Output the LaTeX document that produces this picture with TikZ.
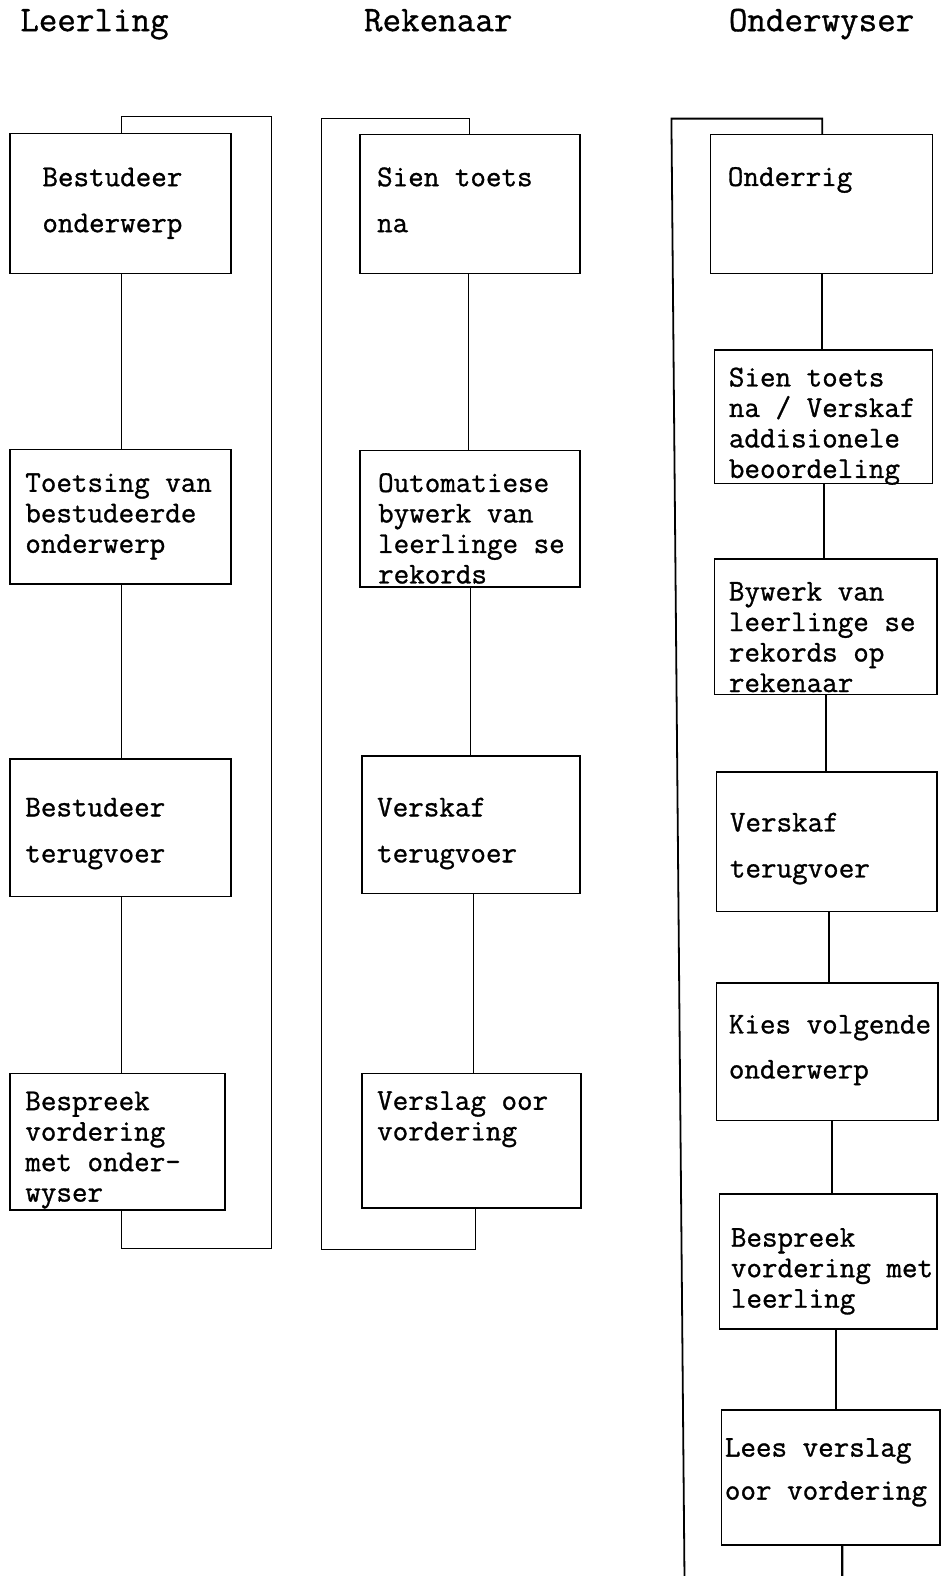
\documentclass[tikz,border=0pt]{standalone}
\usepackage{fontspec}
\newfontfamily\typew{Latin Modern Mono}[FakeBold=1]
\usetikzlibrary{calc}
\begin{document}
\begin{tikzpicture}[x=1.0053pt,y=-1.0053pt,
  box/.style={draw,line width=1.5pt,inner sep=0pt},
  lbl/.style={anchor=base west,inner sep=0pt,align=left,font={\typew\fontsize{30.2}{30.5}\selectfont}},
  lblwide/.style={lbl,font={\typew\fontsize{30.2}{46}\selectfont}},
  head/.style={anchor=base west,inner sep=0pt,font={\typew\fontsize{36}{40}\selectfont}},
  wire/.style={line width=1.4pt},
  heavy/.style={line width=2.4pt}]
\useasboundingbox (0,0) rectangle (941,1568);

% a box given by its corners
\newcommand\flowbox[5]{\node[box,minimum width={(#4-#2)*1.0053},minimum height={(#5-#3)*1.0053}] (#1) at ({(#2+#4)/2},{(#3+#5)/2}) {};}
% vertical joint from the bottom of one box to the top of the next
\newcommand\joinbox[4][wire]{\draw[#1] ($(#2.south)+(#4,0)$) coordinate (k) -- (k |- #3.north);}

% column headings
\node[head] (hL) at (20,31) {Leerling};
\node[head] (hR) at (362,31) {Rekenaar};
\node[head] (hO) at (725,31) {Onderwyser};

% ---- Leerling (text nodes sit on the baseline of their last line)
\flowbox{l1}{10}{133}{230}{272}
\flowbox{l2}{10}{447}{230}{581}
\flowbox{l3}{10}{755}{230}{892}
\flowbox{l4}{10}{1068}{224}{1204}
\node[lblwide] (l1t) at (42,231) {Bestudeer\\onderwerp};
\node[lbl] (l2t) at (25,550) {Toetsing van\\bestudeerde\\onderwerp};
\node[lblwide] (l3t) at (25,858) {Bestudeer\\terugvoer};
\node[lbl] (l4t) at (25,1195.5) {Bespreek\\vordering\\met onder-\\wyser};
\joinbox{l1}{l2}{1}
\joinbox{l2}{l3}{1}
\joinbox{l3}{l4}{1}
\coordinate (ltop) at (270,116);
\coordinate (lbot) at (270,1242);
\draw[wire] ($(l4.south)+(4,0)$) |- (lbot) -- (ltop) -| ($(l1.north)+(1,0)$);

% ---- Rekenaar
\flowbox{r1}{358}{134}{577}{272}
\flowbox{r2}{358}{448}{577}{584}
\flowbox{r3}{360}{752}{577}{889}
\flowbox{r4}{360}{1068}{578}{1202}
\node[lblwide] (r1t) at (375,231) {Sien toets\\na};
\node[lbl] (r2t) at (376,580.5) {Outomatiese\\bywerk van\\leerlinge se\\rekords};
\node[lblwide] (r3t) at (375,858) {Verskaf\\terugvoer};
\node[lbl] (r4t) at (375,1134.5) {Verslag oor\\vordering};
\joinbox{r1}{r2}{-1.5}
\joinbox{r2}{r3}{0.5}
\joinbox{r3}{r4}{2.5}
\coordinate (rtop) at (320,118);
\coordinate (rbot) at (320,1243);
\draw[wire] ($(r4.south)+(4,0)$) |- (rbot) -- (rtop) -| ($(r1.north)+(-0.5,0)$);

% ---- Onderwyser
\flowbox{o1}{707}{134}{928}{272}
\flowbox{o2}{711}{348}{928}{481}
\flowbox{o3}{711}{556}{932}{691}
\flowbox{o4}{713}{768}{932}{907}
\flowbox{o5}{713}{978}{933}{1115}
\flowbox{o6}{716}{1188}{932}{1322}
\flowbox{o7}{718}{1403}{935}{1537}
\node[lbl] (o1t) at (724,185) {Onderrig};
\node[lbl] (o2t) at (725,475.5) {Sien toets\\na / Verskaf\\addisionele\\beoordeling};
\node[lbl] (o3t) at (725,688.5) {Bywerk van\\leerlinge se\\rekords op\\rekenaar};
\node[lblwide] (o4t) at (726,873) {Verskaf\\terugvoer};
\node[lbl,font={\typew\fontsize{30.2}{45}\selectfont}] (o5t) at (725,1073) {Kies volgende\\onderwerp};
\node[lbl] (o6t) at (727,1301) {Bespreek\\vordering met\\leerling};
\node[lbl,font={\typew\fontsize{30.2}{43}\selectfont}] (o7t) at (721,1492) {Lees verslag\\oor vordering};
\joinbox{o1}{o2}{0.5}
\joinbox{o2}{o3}{0.5}
\joinbox[heavy]{o3}{o4}{0.5}
\joinbox[heavy]{o4}{o5}{2.5}
\joinbox[heavy]{o5}{o6}{5}
\joinbox[heavy]{o6}{o7}{8}
\coordinate (otop) at (668,118);
\coordinate (obot) at (681,1568);
\coordinate (oend) at (838,1568);
\draw[wire,line width=1.8pt] (obot) -- (otop) -| ($(o1.north)+(0.5,0)$);
\draw[heavy] ($(o7.south)+(11.5,0)$) -- (oend);
\end{tikzpicture}
\end{document}
